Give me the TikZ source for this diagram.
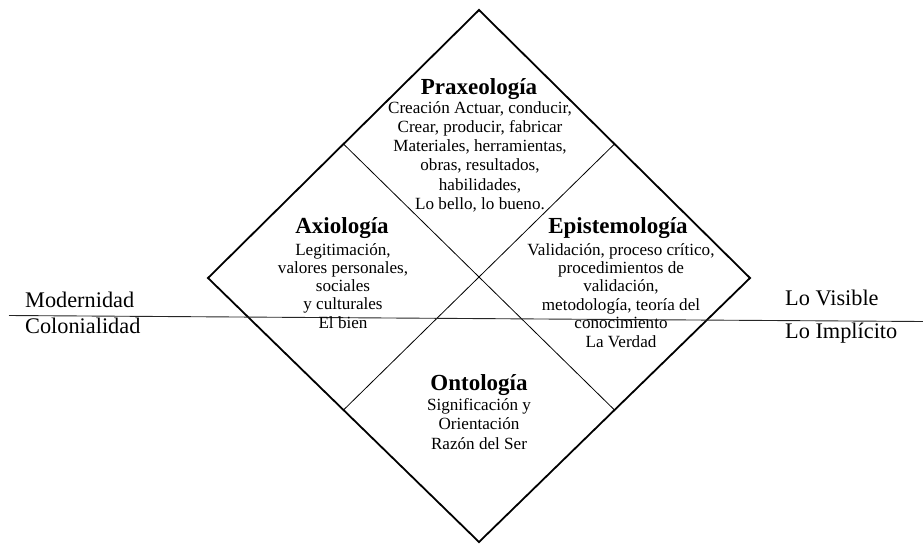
\documentclass[tikz,border=0pt]{standalone}
\usepackage{fontspec}
\setmainfont{Liberation Serif}
\usetikzlibrary{calc}
\tikzset{
  frame/.style={line width=1.8pt, line join=miter},
  divider/.style={line width=0.8pt},
  axisline/.style={line width=0.9pt, draw=black!85},
  ttl/.style={anchor=base, inner sep=0pt, font=\fontsize{23}{26}\selectfont\bfseries},
  bodynode/.style={anchor=base, inner sep=0pt},
  side/.style={anchor=base west, inner sep=0pt, font=\fontsize{22.3}{25}\selectfont},
}
\newcommand{\bodytext}[2]{{\fontsize{17.1}{#1}\selectfont\setlength{\tabcolsep}{0pt}\begin{tabular}[t]{c}#2\end{tabular}}}
\begin{document}
\begin{tikzpicture}[x=1pt,y=-1pt]
\useasboundingbox (0,0) rectangle (923,544);
% diamond corners
\coordinate (top) at (479,10);
\coordinate (right) at (750,278);
\coordinate (bottom) at (479,542);
\coordinate (left) at (208,278);
\coordinate (ul) at ($(top)!0.5!(left)$);
\coordinate (ur) at ($(top)!0.5!(right)$);
\coordinate (ll) at ($(bottom)!0.5!(left)$);
\coordinate (lr) at ($(bottom)!0.5!(right)$);
\coordinate (hl) at (9,315.5);
\coordinate (hr) at (923,321.5);
\draw[frame] (top) -- (right) -- (bottom) -- (left) -- cycle;
\draw[divider] (ul) -- (lr);
\draw[divider] (ur) -- (ll);
\draw[axisline] (hl) -- (hr);
% Praxeologia
\node[ttl] (praxT) at (479,94) {Praxeología};
\node[bodynode] (praxB) at (480,113.3) {\bodytext{19.2}{Creación Actuar, conducir,\\Crear, producir, fabricar\\Materiales, herramientas,\\obras, resultados,\\habilidades,\\Lo bello, lo bueno.}};
% Axiologia
\node[ttl] (axT) at (342,233) {Axiología};
\node[bodynode] (axB) at (343,255) {\bodytext{18.3}{Legitimación,\\valores personales,\\sociales\\y culturales\\El bien}};
% Epistemologia
\node[ttl] (epT) at (618,233) {Epistemología};
\node[bodynode] (epB) at (621,255) {\bodytext{18.4}{Validación, proceso crítico,\\procedimientos de\\validación,\\metodología, teoría del\\conocimiento\\La Verdad}};
% Ontologia
\node[ttl] (onT) at (479,390) {Ontología};
\node[bodynode] (onB) at (479,410) {\bodytext{19.5}{Significación y\\Orientación\\Razón del Ser}};
% side labels
\node[side] (mod) at (25,307) {Modernidad};
\node[side] (col) at (25,333) {Colonialidad};
\node[side] (vis) at (785,305) {Lo Visible};
\node[side] (imp) at (785,338) {Lo Implícito};
\end{tikzpicture}
\end{document}
